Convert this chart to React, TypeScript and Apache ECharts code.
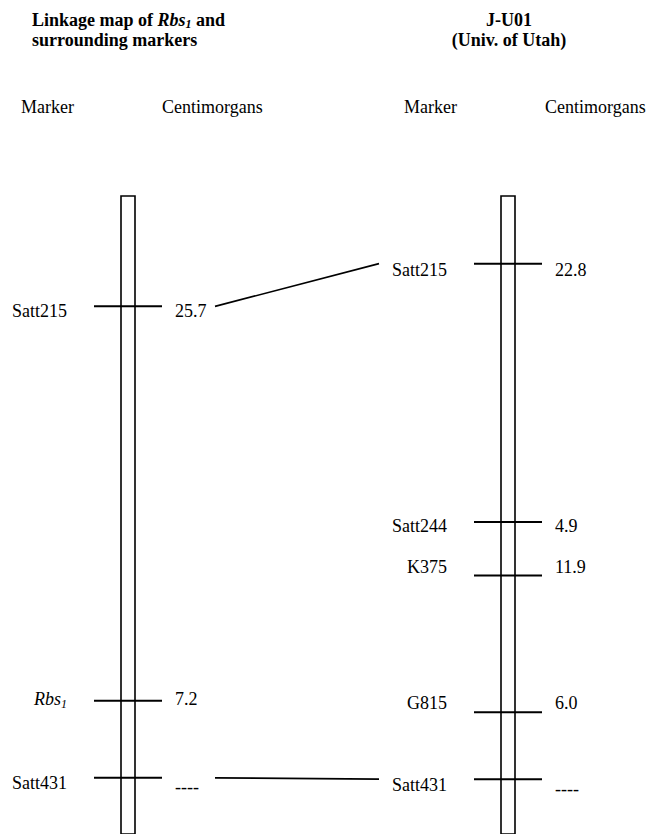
import React, { useEffect, useRef } from "react";
import * as echarts from "echarts";

const FONT = "Liberation Serif, DejaVu Serif, serif";

// Left map: Linkage map of Rbs1 and surrounding markers
const leftMarkers = ["Satt215", "Rbs1", "Satt431"];
const leftMapPos = [17.3, 79.1, 91.2];
const leftLabelPos = [18.1, 78.8, 92.0];
const leftCM = ["25.7", "7.2", "----"];

// Right map: J-U01 (Univ. of Utah)
const rightMarkers = ["Satt215", "Satt244", "K375", "G815", "Satt431"];
const rightMapPos = [10.6, 51.1, 59.5, 80.9, 91.4];
const rightLabelPos = [11.6, 51.7, 58.1, 79.5, 92.3];
const rightCM = ["22.8", "4.9", "11.9", "6.0", "----"];

const italicMarkers = ["Rbs1"];
const links = [
  ["Satt215", "Satt215"],
  ["Satt431", "Satt431"],
];

const chromStart = 0;
const chromEnd = 100;

function markerSeries(mapX: number, names: string[], pos: number[], labelPos: number[], cm: string[]) {
  return {
    type: "custom",
    data: names.map((_, i) => [mapX, pos[i], labelPos[i]]),
    encode: { x: 0, y: 1 },
    clip: false,
    renderItem: (params: any, api: any) => {
      const i = params.dataIndex;
      const p = api.coord([api.value(0), api.value(1)]);
      const lp = api.coord([api.value(0), api.value(2)]);
      const name = names[i];
      const isItalic = italicMarkers.includes(name);
      const nameStyle: any = isItalic
        ? {
            text: "{i|" + name.replace(/\d+$/, "") + "}{s|" + name.match(/\d+$/)![0] + "}",
            rich: {
              i: { fontFamily: FONT, fontSize: 18, fontStyle: "italic", fill: "#000", lineHeight: 22 },
              s: { fontFamily: FONT, fontSize: 12, fontStyle: "italic", fill: "#000", lineHeight: 12, verticalAlign: "bottom" },
            },
          }
        : { text: name, fontFamily: FONT, fontSize: 18, fill: "#000" };
      const cmText = cm[i];
      return {
        type: "group",
        children: [
          {
            type: "line",
            shape: { x1: p[0] - 34, y1: p[1], x2: p[0] + 34, y2: p[1] },
            style: { stroke: "#000", lineWidth: 2 },
          },
          {
            type: "text",
            style: {
              ...nameStyle,
              x: p[0] - 61,
              y: lp[1],
              align: "right",
              verticalAlign: "middle",
            },
          },
          {
            type: "text",
            style: {
              text: cmText,
              fontFamily: FONT,
              fontSize: 18,
              fill: "#000",
              x: p[0] + 47,
              y: lp[1] + (cmText === "----" ? 4 : 0),
              align: "left",
              verticalAlign: "middle",
            },
          },
        ],
      };
    },
  };
}

export default function App() {
  const ref = useRef<HTMLDivElement>(null);
  useEffect(() => {
    const chart = echarts.init(ref.current!, null, { renderer: "svg" });
    const linkData = links.map(([a, b]) => [0, leftMapPos[leftMarkers.indexOf(a)], 1, rightMapPos[rightMarkers.indexOf(b)]]);
    const option: any = {
      animation: false,
      backgroundColor: "#fff",
      grid: { left: 128, right: 151, top: 196, height: 640 },
      xAxis: { type: "value", min: 0, max: 1, show: false },
      yAxis: { type: "value", min: chromStart, max: chromEnd, inverse: true, show: false },
      graphic: [
        {
          type: "text",
          x: 32,
          y: 10,
          style: {
            text: "{b|Linkage map of }{bi|Rbs}{bs|1}{b| and}\n{b|surrounding markers}",
            rich: {
              b: { fontFamily: FONT, fontSize: 18, fontWeight: "bold", fill: "#000", lineHeight: 20 },
              bi: { fontFamily: FONT, fontSize: 18, fontWeight: "bold", fontStyle: "italic", fill: "#000", lineHeight: 20 },
              bs: { fontFamily: FONT, fontSize: 12, fontWeight: "bold", fontStyle: "italic", fill: "#000", lineHeight: 12, verticalAlign: "bottom" },
            },
          },
        },
        {
          type: "text",
          x: 509,
          y: 10,
          style: {
            text: "J-U01\n(Univ. of Utah)",
            fontFamily: FONT,
            fontSize: 18,
            fontWeight: "bold",
            lineHeight: 20,
            fill: "#000",
            align: "center",
            verticalAlign: "top",
          },
        },
        { type: "text", x: 21, y: 107, style: { text: "Marker", fontFamily: FONT, fontSize: 18, fill: "#000", verticalAlign: "middle" } },
        { type: "text", x: 162, y: 107, style: { text: "Centimorgans", fontFamily: FONT, fontSize: 18, fill: "#000", verticalAlign: "middle" } },
        { type: "text", x: 404, y: 107, style: { text: "Marker", fontFamily: FONT, fontSize: 18, fill: "#000", verticalAlign: "middle" } },
        { type: "text", x: 545, y: 107, style: { text: "Centimorgans", fontFamily: FONT, fontSize: 18, fill: "#000", verticalAlign: "middle" } },
      ],
      series: [
        {
          type: "custom",
          data: [
            [0, chromStart, chromEnd],
            [1, chromStart, chromEnd],
          ],
          encode: { x: 0, y: [1, 2] },
          clip: false,
          renderItem: (params: any, api: any) => {
            const top = api.coord([api.value(0), api.value(1)]);
            const bot = api.coord([api.value(0), api.value(2)]);
            return {
              type: "rect",
              shape: { x: top[0] - 7, y: top[1], width: 14, height: bot[1] - top[1] },
              style: { fill: "none", stroke: "#000", lineWidth: 1.6 },
            };
          },
        },
        markerSeries(0, leftMarkers, leftMapPos, leftLabelPos, leftCM),
        markerSeries(1, rightMarkers, rightMapPos, rightLabelPos, rightCM),
        {
          type: "custom",
          data: linkData,
          encode: { x: [0, 2], y: [1, 3] },
          clip: false,
          renderItem: (params: any, api: any) => {
            const a = api.coord([api.value(0), api.value(1)]);
            const b = api.coord([api.value(2), api.value(3)]);
            return {
              type: "line",
              shape: { x1: a[0] + 87, y1: a[1], x2: b[0] - 129, y2: b[1] },
              style: { stroke: "#000", lineWidth: 1.6 },
            };
          },
        },
      ],
    };
    chart.setOption(option);
    return () => chart.dispose();
  }, []);
  return <div ref={ref} style={{ position: "absolute", left: 0, top: 0, width: 659, height: 834 }} />;
}
